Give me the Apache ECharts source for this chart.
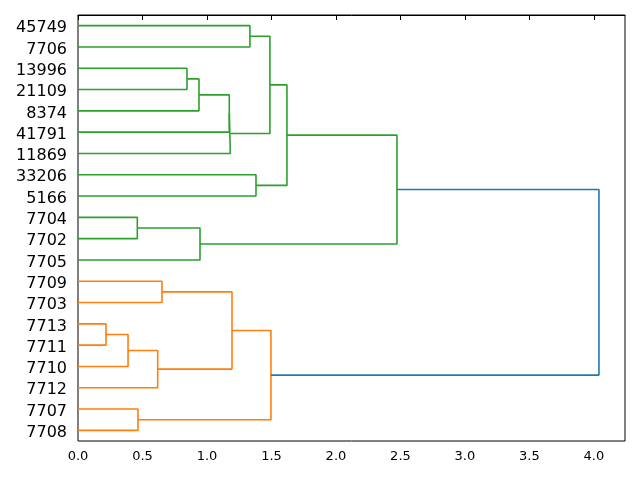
<!DOCTYPE html>
<html>
<head>
<meta charset="utf-8">
<script src="https://cdn.jsdelivr.net/npm/echarts@6/dist/echarts.min.js"></script>
<style>html,body{margin:0;padding:0;background:#fff}#c{width:640px;height:480px}</style>
</head>
<body>
<div id="c"></div>
<script>
// Leaf labels, top to bottom
const leafLabels = ['45749','7706','13996','21109','8374','41791','11869','33206','5166','7704','7702','7705','7709','7703','7713','7711','7710','7712','7707','7708'];
// Merges: [childA, childB, height]; ids < 20 are leaves, id 20+k is merge k
const mergeA = [14, 20,  9, 18, 21, 12,  2, 26, 22, 27, 29, 25,  0,  7, 32, 31, 34, 36, 37];
const mergeB = [15, 16, 10, 19, 17, 13,  3,  4, 11,  5,  6, 24,  1,  8, 30, 23, 33, 28, 35];
const mergeH = [0.217, 0.388, 0.460, 0.465, 0.618, 0.651, 0.845, 0.938, 0.946, 1.173, 1.181, 1.194, 1.333, 1.380, 1.488, 1.496, 1.620, 2.473, 4.039];
const xTicks = [0, 0.5, 1.0, 1.5, 2.0, 2.5, 3.0, 3.5, 4.0];

const N = leafLabels.length;
const palette = ['#ff7f0e', '#2ca02c'];
const aboveColor = '#1f77b4';
const maxH = Math.max(...mergeH);
const threshold = 0.7 * maxH;

function posOf(id) { return id < N ? 5 + 10 * id : nodePos[id - N]; }
function hOf(id) { return id < N ? 0 : mergeH[id - N]; }
const nodePos = [];
for (let k = 0; k < mergeH.length; k++) {
  nodePos.push((posOf(mergeA[k]) + posOf(mergeB[k])) / 2);
}
// color assignment like scipy: subtrees below threshold get palette colors
const linkColor = new Array(mergeH.length).fill(aboveColor);
let ci = 0;
function paint(id, col) {
  if (id < N) return;
  const k = id - N;
  linkColor[k] = col;
  paint(mergeA[k], col); paint(mergeB[k], col);
}
function visit(id) {
  if (id < N) return;
  const k = id - N;
  if (mergeH[k] < threshold) { paint(id, palette[ci % palette.length]); ci++; return; }
  const kids = [mergeA[k], mergeB[k]].sort((a, b) => posOf(b) - posOf(a));
  kids.forEach(visit);
}
visit(N + mergeH.length - 1);

const series = mergeH.map((h, k) => {
  const a = mergeA[k], b = mergeB[k];
  return {
    type: 'line', xAxisIndex: 0, yAxisIndex: 1,
    data: [[hOf(a), posOf(a)], [h, posOf(a)], [h, posOf(b)], [hOf(b), posOf(b)]],
    showSymbol: false, symbol: 'none', silent: true, animation: false,
    lineStyle: { color: linkColor[k], width: 1.6 },
    itemStyle: { color: linkColor[k] }
  };
});

const chart = echarts.init(document.getElementById('c'), null, { renderer: 'canvas' });
chart.setOption({
  backgroundColor: '#fff',
  animation: false,
  textStyle: { fontFamily: 'DejaVu Sans' },
  grid: { left: 78, right: 15, top: 15, bottom: 39, show: true, borderColor: '#000', borderWidth: 1, backgroundColor: 'transparent' },
  xAxis: [{
    type: 'value', min: 0, max: +(maxH * 1.05).toFixed(3),
    axisLine: { show: true, lineStyle: { color: '#000', width: 1 } },
    axisTick: { show: true, length: 5, customValues: xTicks, lineStyle: { color: '#000' } },
    axisLabel: { customValues: xTicks, color: '#000', fontSize: 13, margin: 9, fontFamily: 'DejaVu Sans', formatter: v => v.toFixed(1) },
    splitLine: { show: false }
  }],
  yAxis: [{
    type: 'category', data: leafLabels, inverse: true, boundaryGap: true,
    axisLine: { show: false }, axisTick: { show: false },
    axisLabel: {
      color: '#000', fontSize: 16, margin: 11, fontFamily: 'DejaVu Sans',
      formatter: v => '{a|' + v + '}',
      rich: { a: { fontSize: 16, color: '#000', fontFamily: 'DejaVu Sans', padding: [5, 0, 0, 0] } }
    },
    splitLine: { show: false }
  }, {
    type: 'value', min: 0, max: 10 * N, inverse: true, show: false,
    splitLine: { show: false }
  }],
  series: series
});
</script>
</body>
</html>
